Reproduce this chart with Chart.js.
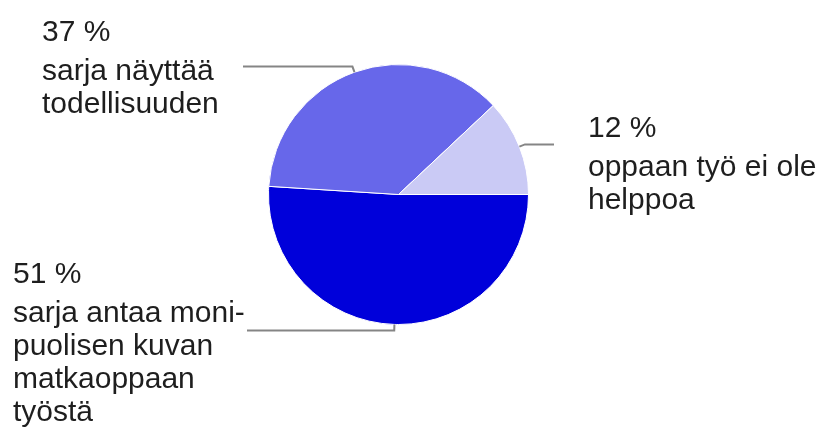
<!DOCTYPE html>
<html>
<head>
<meta charset="utf-8">
<script src="https://cdn.jsdelivr.net/npm/chart.js@4/dist/chart.umd.min.js"></script>
<style>
  html, body { margin: 0; padding: 0; background: #fff; }
  #wrap { width: 829px; height: 434px; position: relative; }
</style>
</head>
<body>
<div id="wrap"><canvas id="pie"></canvas></div>
<script>
// answers, clockwise from 3 o'clock
var categories = ["sarja antaa monipuolisen kuvan matkaoppaan työstä", "sarja näyttää todellisuuden", "oppaan työ ei ole helppoa"];
var shares = [51, 37, 12];
var labelLines = [
  ["sarja antaa moni-", "puolisen kuvan", "matkaoppaan", "työstä"],
  ["sarja näyttää", "todellisuuden"],
  ["oppaan työ ei ole", "helppoa"]
];
var sliceColors = ["#0000da", "#6767ea", "#cacaf5"];

// where the text blocks sit, and where the leader line stops
var labelLayout = [
  { x: 13, y: 283, lineTo: 247 },
  { x: 42, y: 41, lineTo: 243 },
  { x: 588, y: 137, lineTo: 554 }
];

var calloutPlugin = {
  id: "callouts",
  afterDatasetsDraw: function(chart) {
    var ctx = chart.ctx;
    var arcs = chart.getDatasetMeta(0).data;
    ctx.save();
    arcs.forEach(function(arc, i) {
      var p = arc.getProps(["x", "y", "startAngle", "endAngle", "outerRadius"], true);
      var mid = (p.startAngle + p.endAngle) / 2;
      var r = p.outerRadius;
      var x0 = p.x + Math.cos(mid) * r;
      var y0 = p.y + Math.sin(mid) * r;
      var x1 = p.x + Math.cos(mid) * (r + 6);
      var y1 = p.y + Math.sin(mid) * (r + 6);
      var lay = labelLayout[i];
      ctx.strokeStyle = "#858585";
      ctx.lineWidth = 2;
      ctx.beginPath();
      ctx.moveTo(x0, y0);
      ctx.lineTo(x1, y1);
      ctx.lineTo(lay.lineTo, y1);
      ctx.stroke();

      ctx.fillStyle = "#1e1e1e";
      ctx.font = "30px 'Liberation Sans', Arial, sans-serif";
      ctx.textBaseline = "alphabetic";
      ctx.textAlign = "left";
      ctx.fillText(shares[i] + " %", lay.x, lay.y);
      var yy = lay.y + 39;
      labelLines[i].forEach(function(line) {
        ctx.fillText(line, lay.x, yy);
        yy += 33;
      });
    });
    ctx.restore();
  }
};

new Chart(document.getElementById("pie"), {
  type: "pie",
  data: {
    labels: categories,
    datasets: [{
      data: shares,
      backgroundColor: sliceColors,
      borderColor: "#ffffff",
      borderWidth: 1,
      hoverOffset: 0,
      offset: 0
    }]
  },
  options: {
    responsive: true,
    maintainAspectRatio: false,
    animation: false,
    events: [],
    rotation: 90,
    layout: { padding: { left: 268, right: 300, top: 64, bottom: 109 } },
    plugins: {
      legend: { display: false },
      tooltip: { enabled: false }
    }
  },
  plugins: [calloutPlugin]
});
</script>
</body>
</html>
